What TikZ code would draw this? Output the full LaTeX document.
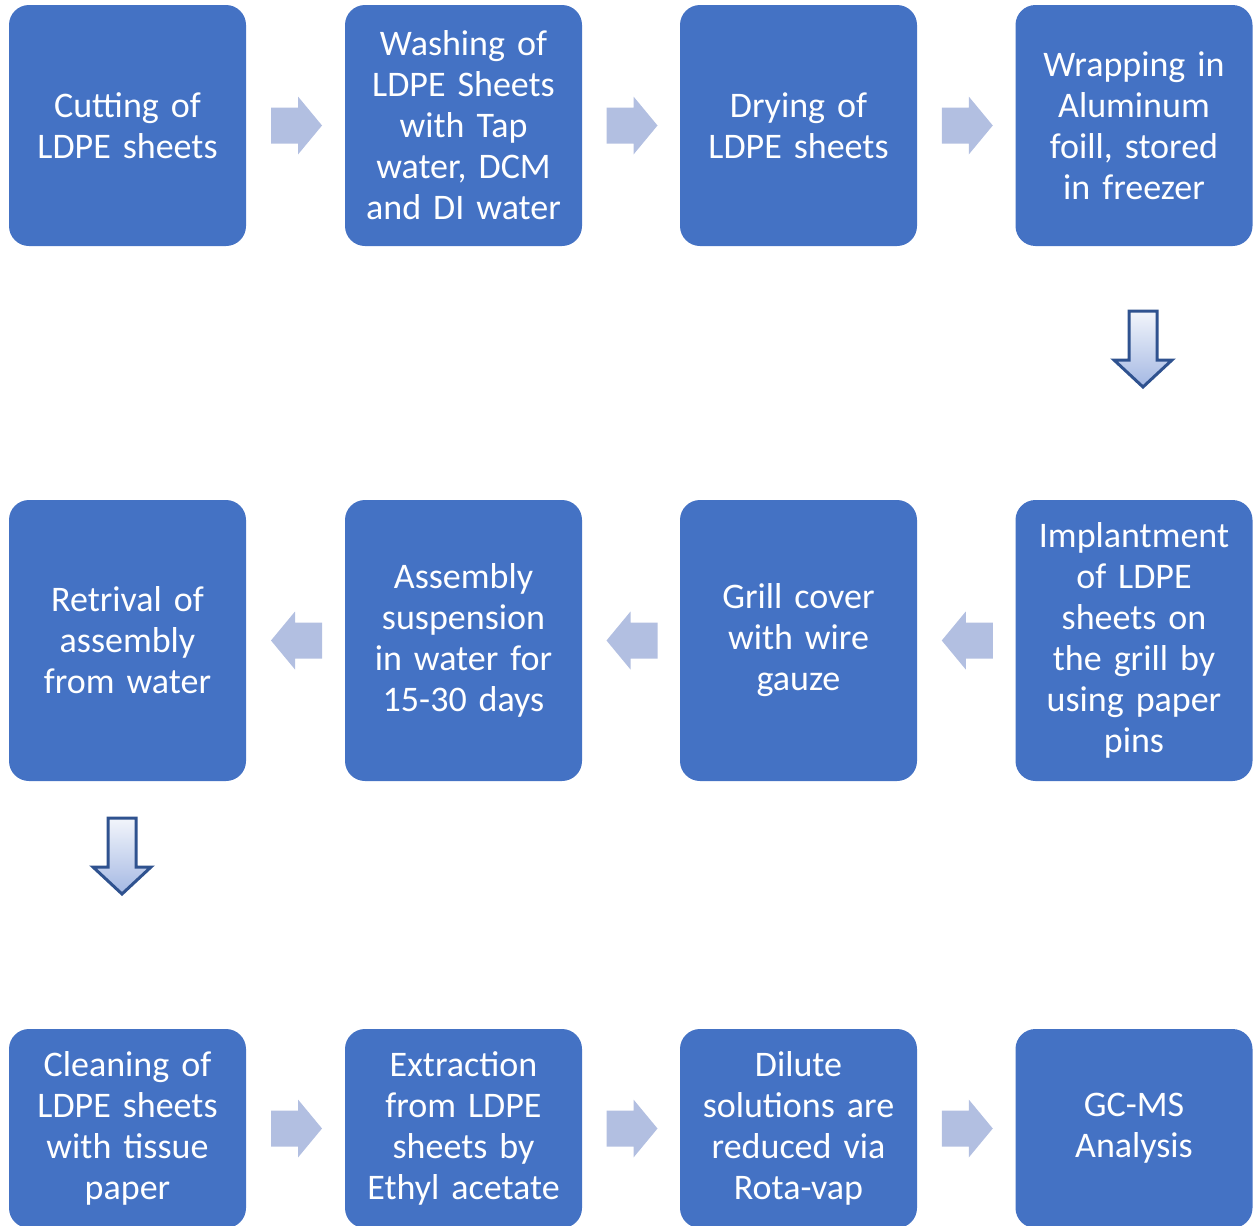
\documentclass[tikz,border=0pt]{standalone}
\usepackage{fontspec}
\setmainfont{Carlito}
\usepackage{tikz}
\usetikzlibrary{calc}

\definecolor{boxblue}{HTML}{4472C4}
\definecolor{arrowblue}{HTML}{B2BFE1}
\definecolor{edgeblue}{HTML}{2F528F}
\definecolor{shadetop}{HTML}{F2F5FB}
\definecolor{shadebot}{HTML}{A4B8E3}

\tikzset{
  stepbox/.style={fill=boxblue, rounded corners=20pt, minimum width=237pt,
    text=white, align=center, text width=230pt, inner sep=0pt,
    font=\fontsize{36}{41}\selectfont},
  flowarrow/.style={fill=arrowblue},
  downarrow/.style={draw=edgeblue, line width=3pt, line join=miter,
    top color=shadetop, bottom color=shadebot}
}

% block arrow centred at #1, turned by #2
\newcommand\blockarrow[2]{%
  \fill[flowarrow, shift={(#1)}, rotate=#2]
    (-25.5,-18) -- (1.5,-18) -- (1.5,-29) -- (25.5,0) -- (1.5,29)
    -- (1.5,18) -- (-25.5,18) -- cycle;}

\begin{document}
\begin{tikzpicture}[x=1pt, y=-1pt]
\useasboundingbox (0,0) rectangle (1253,1226);

\node[stepbox, minimum height=241pt] (cut) at (127.5,125.5) {Cutting of\\LDPE sheets};
\node[stepbox, minimum height=241pt] (wash) at (463.5,125.5) {Washing of\\LDPE Sheets\\with Tap\\water, DCM\\and DI water};
\node[stepbox, minimum height=241pt] (dry) at (798.5,125.5) {Drying of\\LDPE sheets};
\node[stepbox, minimum height=241pt] (wrap) at (1134,125.5) {Wrapping in\\Aluminum\\foill, stored\\in freezer};

\node[stepbox, minimum height=281pt] (implant) at (1134,640.5) {Implantment\\of LDPE\\sheets on\\the grill by\\using paper\\pins};
\node[stepbox, minimum height=281pt] (grill) at (798.5,640.5) {Grill cover\\with wire\\gauze};
\node[stepbox, minimum height=281pt] (susp) at (463.5,640.5) {Assembly\\suspension\\in water for\\15-30 days};
\node[stepbox, minimum height=281pt] (retr) at (127.5,640.5) {Retrival of\\assembly\\from water};

\node[stepbox, minimum height=199pt] (clean) at (127.5,1128.5) {Cleaning of\\LDPE sheets\\with tissue\\paper};
\node[stepbox, minimum height=199pt] (extr) at (463.5,1128.5) {Extraction\\from LDPE\\sheets by\\Ethyl acetate};
\node[stepbox, minimum height=199pt] (dil) at (798.5,1128.5) {Dilute\\solutions are\\reduced via\\Rota-vap};
\node[stepbox, minimum height=199pt] (gcms) at (1134,1128.5) {GC-MS\\Analysis};

\blockarrow{$(cut.east)!0.5!(wash.west)+(1,0)$}{0}
\blockarrow{$(wash.east)!0.5!(dry.west)+(1,0)$}{0}
\blockarrow{$(dry.east)!0.5!(wrap.west)+(1,0)$}{0}

\blockarrow{$(implant.west)!0.5!(grill.east)+(1,0)$}{180}
\blockarrow{$(grill.west)!0.5!(susp.east)+(1,0)$}{180}
\blockarrow{$(susp.west)!0.5!(retr.east)+(1,0)$}{180}

\blockarrow{$(clean.east)!0.5!(extr.west)+(1,0)$}{0}
\blockarrow{$(extr.east)!0.5!(dil.west)+(1,0)$}{0}
\blockarrow{$(dil.east)!0.5!(gcms.west)+(1,0)$}{0}

\draw[downarrow] (1129,311) -- (1157,311) -- (1157,360) -- (1172,360) -- (1143,387)
  -- (1114,360) -- (1129,360) -- cycle;
\draw[downarrow] (108,818) -- (136,818) -- (136,867) -- (151,867) -- (122,894)
  -- (93,867) -- (108,867) -- cycle;

\end{tikzpicture}
\end{document}
